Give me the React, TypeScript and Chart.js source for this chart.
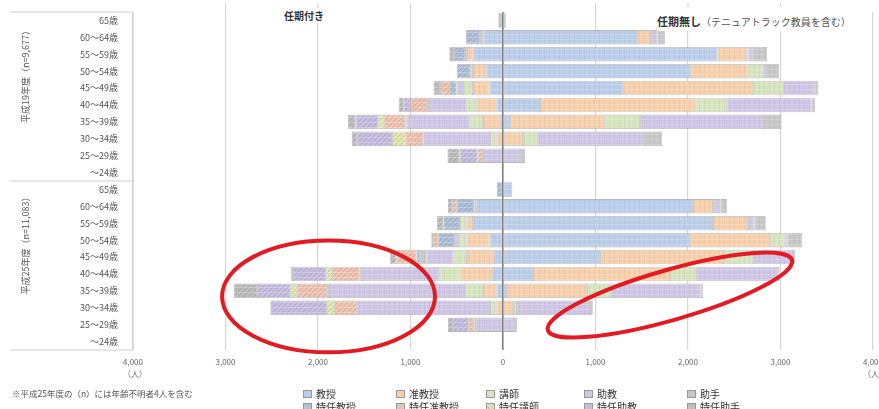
import React, { useEffect, useRef } from "react";
import { Chart, registerables } from "chart.js";
Chart.register(...registerables);

const FONT = '"Noto Sans CJK JP", "Noto Sans", sans-serif';

const ageLabels = ["65歳", "60～64歳", "55～59歳", "50～54歳", "45～49歳", "40～44歳", "35～39歳", "30～34歳", "25～29歳", "～24歳"];
const groupLabels = ["平成19年度（n=9,677）", "平成25年度（n=11,083）"];
const rowLabels = [...ageLabels, ...ageLabels];

const typeNames = ["教授", "准教授", "講師", "助教", "助手", "特任教授", "特任准教授", "特任講師", "特任助教", "特任助手"];
const typeColors = ["#bccfea", "#f8d1ac", "#d6e6bf", "#d0c7e6", "#c8c8c8", "#aebfd8", "#f0c3b0", "#e0e8a8", "#c6bde0", "#bdbdbd"];

// 任期付き (fixed term): H19 rows then H25 rows
const fixedProf = [20, 210, 320, 180, 145, 70, 35, 0, 0, 0, 0, 290, 325, 145, 100, 110, 70, 0, 0, 0];
const fixedAssoc = [0, 0, 70, 145, 180, 215, 180, 70, 0, 0, 0, 20, 70, 250, 290, 360, 145, 70, 0, 0];
const fixedLect = [0, 0, 0, 30, 108, 108, 145, 70, 0, 0, 0, 0, 70, 90, 145, 215, 180, 70, 0, 0];
const fixedAsstProf = [0, 0, 0, 0, 70, 395, 685, 720, 215, 0, 0, 0, 0, 35, 290, 830, 1475, 1440, 290, 0];
const fixedAssistant = [0, 40, 20, 0, 0, 35, 10, 0, 0, 0, 0, 0, 0, 0, 70, 35, 35, 0, 20, 0];
const fixedSpProf = [30, 150, 120, 145, 70, 0, 0, 0, 0, 0, 65, 190, 180, 180, 40, 0, 0, 0, 0, 0];
const fixedSpAssoc = [0, 0, 0, 0, 108, 180, 235, 195, 60, 0, 0, 50, 0, 55, 215, 290, 325, 235, 60, 0];
const fixedSpLect = [0, 0, 0, 0, 0, 0, 55, 145, 0, 0, 0, 0, 0, 0, 0, 70, 70, 90, 0, 0];
const fixedSpAsstProf = [0, 0, 0, 0, 0, 70, 250, 380, 195, 10, 0, 0, 0, 0, 0, 360, 360, 610, 170, 10];
const fixedSpAssistant = [0, 0, 50, 0, 70, 55, 80, 55, 130, 0, 0, 45, 70, 20, 70, 20, 250, 0, 55, 0];

// 任期無し (no fixed term)
const noTermProf = [30, 1450, 2320, 2020, 1300, 400, 75, 0, 0, 0, 100, 2055, 2270, 2020, 1050, 325, 45, 0, 0, 0];
const noTermAssoc = [0, 140, 310, 625, 1405, 1680, 1025, 215, 0, 0, 0, 215, 370, 865, 1330, 1480, 865, 110, 0, 0];
const noTermLect = [0, 20, 25, 160, 325, 345, 380, 160, 0, 0, 0, 20, 20, 160, 325, 290, 250, 40, 0, 0];
const noTermAsstProf = [0, 60, 50, 30, 340, 910, 1330, 1160, 185, 0, 0, 60, 60, 30, 430, 865, 975, 800, 120, 0];
const noTermAssistant = [0, 80, 150, 150, 40, 40, 200, 185, 55, 0, 0, 70, 120, 160, 20, 30, 30, 20, 30, 0];

const fixedTermSeries = [fixedProf, fixedAssoc, fixedLect, fixedAsstProf, fixedAssistant, fixedSpProf, fixedSpAssoc, fixedSpLect, fixedSpAsstProf, fixedSpAssistant];
const noTermSeries = [noTermProf, noTermAssoc, noTermLect, noTermAsstProf, noTermAssistant];

const xMin = -4000;
const xMax = 4000;
const xStep = 1000;

// red highlight ellipses, in data units (x value, row index)
const highlights = [
  { x: -1886, row: 16.33, rx: 1151, ry: 3.31, rot: 0 },
  { x: 1805, row: 16.25, rx: 1373, ry: 1.48, rot: -16 },
];

function makePattern(color: string, special: boolean): CanvasPattern | string {
  const c = document.createElement("canvas");
  c.width = 5;
  c.height = 5;
  const g = c.getContext("2d");
  if (!g) return color;
  g.fillStyle = color;
  g.fillRect(0, 0, 5, 5);
  if (special) {
    g.strokeStyle = "rgba(80,80,100,0.22)";
    g.lineWidth = 1;
    g.beginPath();
    g.moveTo(0, 5);
    g.lineTo(5, 0);
    g.stroke();
    g.fillStyle = "rgba(255,255,255,0.25)";
    g.fillRect(0, 2, 5, 1);
  } else {
    g.fillStyle = "rgba(120,120,140,0.12)";
    g.fillRect(4, 0, 1, 5);
    g.fillStyle = "rgba(255,255,255,0.2)";
    g.fillRect(0, 4, 5, 1);
  }
  return g.createPattern(c, "repeat") || color;
}

function rowBounds(chart: any) {
  const y = chart.scales.y;
  const rowH = Math.abs(y.getPixelForValue(1) - y.getPixelForValue(0));
  const top = y.getPixelForValue(0) - rowH / 2;
  const bottom = y.getPixelForValue(rowLabels.length - 1) + rowH / 2;
  return { rowH, top, bottom };
}

const framePlugin = {
  id: "frame",
  beforeDatasetsDraw(chart: any) {
    const { ctx } = chart;
    const x = chart.scales.x;
    const { top } = rowBounds(chart);
    ctx.save();
    ctx.strokeStyle = "#d6d6d6";
    ctx.lineWidth = 1.2;
    for (let v = xMin + xStep; v < xMax; v += xStep) {
      if (v === 0) continue;
      const px = x.getPixelForValue(v);
      ctx.beginPath();
      ctx.moveTo(px, 3);
      ctx.lineTo(px, top);
      ctx.stroke();
    }
    ctx.restore();
  },
  afterDraw(chart: any) {
    const { ctx, chartArea } = chart;
    const y = chart.scales.y;
    const { top, bottom } = rowBounds(chart);
    const left = 10;
    const right = chartArea.left;
    const sep = (y.getPixelForValue(9) + y.getPixelForValue(10)) / 2;
    ctx.save();
    ctx.strokeStyle = "#cfcfcf";
    ctx.lineWidth = 1.2;
    [top, sep, bottom].forEach((yy: number) => {
      ctx.beginPath();
      ctx.moveTo(left, yy);
      ctx.lineTo(right, yy);
      ctx.stroke();
    });
    ctx.beginPath();
    ctx.moveTo(right, top);
    ctx.lineTo(right, bottom);
    ctx.stroke();
    ctx.fillStyle = "#555";
    ctx.font = `9px ${FONT}`;
    ctx.textAlign = "center";
    ctx.textBaseline = "middle";
    groupLabels.forEach((lab, g) => {
      const cy = (y.getPixelForValue(g * 10) + y.getPixelForValue(g * 10 + 9)) / 2 - 22;
      ctx.save();
      ctx.translate(26, cy);
      ctx.rotate(-Math.PI / 2);
      ctx.fillText(lab, 0, 0);
      ctx.restore();
    });
    ctx.restore();
  },
};

const ellipsePlugin = {
  id: "ellipses",
  afterDraw(chart: any) {
    const { ctx } = chart;
    const x = chart.scales.x;
    const y = chart.scales.y;
    const { rowH } = rowBounds(chart);
    ctx.save();
    ctx.strokeStyle = "#e41a22";
    ctx.lineWidth = 4;
    highlights.forEach((h) => {
      const cx = x.getPixelForValue(h.x);
      const cy = y.getPixelForValue(0) + h.row * rowH;
      const rxp = Math.abs(x.getPixelForValue(h.x + h.rx) - cx);
      const ryp = h.ry * rowH;
      ctx.beginPath();
      ctx.ellipse(cx, cy, rxp, ryp, (h.rot * Math.PI) / 180, 0, Math.PI * 2);
      ctx.stroke();
    });
    ctx.restore();
  },
};

export default function App() {
  const ref = useRef<HTMLCanvasElement>(null);

  useEffect(() => {
    if (!ref.current) return;
    const datasets: any[] = [];
    fixedTermSeries.forEach((arr, i) => {
      datasets.push({
        label: typeNames[i],
        data: arr.map((v) => (v ? -v : null)),
        backgroundColor: makePattern(typeColors[i], i >= 5),
        borderColor: "rgba(130,130,130,0.55)",
        borderWidth: 0.8,
        borderSkipped: false,
        barPercentage: 1,
        categoryPercentage: 0.86,
        stack: "s",
      });
    });
    noTermSeries.forEach((arr, i) => {
      datasets.push({
        label: typeNames[i] + "_r",
        data: arr.map((v) => (v ? v : null)),
        backgroundColor: makePattern(typeColors[i], false),
        borderColor: "rgba(130,130,130,0.55)",
        borderWidth: 0.8,
        borderSkipped: false,
        barPercentage: 1,
        categoryPercentage: 0.86,
        stack: "s",
      });
    });

    const chart = new Chart(ref.current, {
      type: "bar",
      data: { labels: rowLabels, datasets },
      options: {
        responsive: false,
        animation: false,
        indexAxis: "y",
        layout: { padding: { left: 10, right: 6, top: 12, bottom: 0 } },
        plugins: { legend: { display: false }, tooltip: { enabled: false } },
        scales: {
          x: {
            stacked: true,
            min: xMin,
            max: xMax,
            ticks: {
              stepSize: xStep,
              callback: (v: any) => Math.abs(Number(v)).toLocaleString("en-US"),
              font: { size: 8, family: FONT },
              color: "#666",
              padding: 7,
            },
            grid: {
              color: (c: any) => (c.tick && c.tick.value === 0 ? "#808080" : "#d6d6d6"),
              lineWidth: (c: any) => (c.tick && c.tick.value === 0 ? 1.6 : 1.2),
              drawTicks: false,
            },
            border: { display: false },
            afterFit: (s: any) => {
              s.height = 59;
              s.paddingLeft = 0;
              s.paddingRight = 0;
            },
          },
          y: {
            stacked: true,
            ticks: { font: { size: 9, family: FONT }, color: "#555", padding: 15, autoSkip: false },
            grid: { display: false, drawTicks: false },
            border: { display: false },
            afterFit: (s: any) => {
              s.width = 123;
              s.paddingTop = 0;
              s.paddingBottom = 0;
            },
          },
        },
      } as any,
      plugins: [framePlugin, ellipsePlugin],
    });
    return () => chart.destroy();
  }, []);

  const legendX = [303, 396, 486, 584, 687];
  return (
    <div style={{ position: "absolute", left: 0, top: 0, width: 879, height: 409, overflow: "hidden", fontFamily: FONT, background: "#fff" }}>
      <canvas ref={ref} width={879} height={409} style={{ position: "absolute", left: 0, top: 0, width: 879, height: 409 }} />
      <div style={{ position: "absolute", left: 284, top: 8, fontSize: 10, fontWeight: 700, color: "#333", whiteSpace: "nowrap", background: "#fff" }}>任期付き</div>
      <div style={{ position: "absolute", left: 657, top: 7, whiteSpace: "nowrap", color: "#333", background: "#fff" }}>
        <span style={{ fontSize: 11, fontWeight: 700 }}>任期無し</span>
        <span style={{ fontSize: 10, color: "#555" }}>（テニュアトラック教員を含む）</span>
      </div>
      <div style={{ position: "absolute", left: 123, top: 368, fontSize: 8, color: "#666" }}>（人）</div>
      <div style={{ position: "absolute", left: 863, top: 368, fontSize: 8, color: "#666", whiteSpace: "nowrap" }}>（人）</div>
      <div style={{ position: "absolute", left: 12, top: 387, fontSize: 8.5, color: "#555", whiteSpace: "nowrap" }}>※平成25年度の（n）には年齢不明者4人を含む</div>
      {typeNames.map((name, i) => {
        const col = i % 5;
        const row = Math.floor(i / 5);
        const special = i >= 5;
        return (
          <div key={name} style={{ position: "absolute", left: legendX[col], top: 386 + row * 13, display: "flex", alignItems: "center", whiteSpace: "nowrap" }}>
            <span
              style={{
                display: "inline-block",
                width: 7,
                height: 6,
                marginRight: 4,
                border: "1px solid #999",
                background: special
                  ? `repeating-linear-gradient(45deg, ${typeColors[i]} 0 2px, rgba(90,90,110,0.35) 2px 3px)`
                  : typeColors[i],
              }}
            />
            <span style={{ fontSize: 10, color: "#333" }}>{name}</span>
          </div>
        );
      })}
    </div>
  );
}
